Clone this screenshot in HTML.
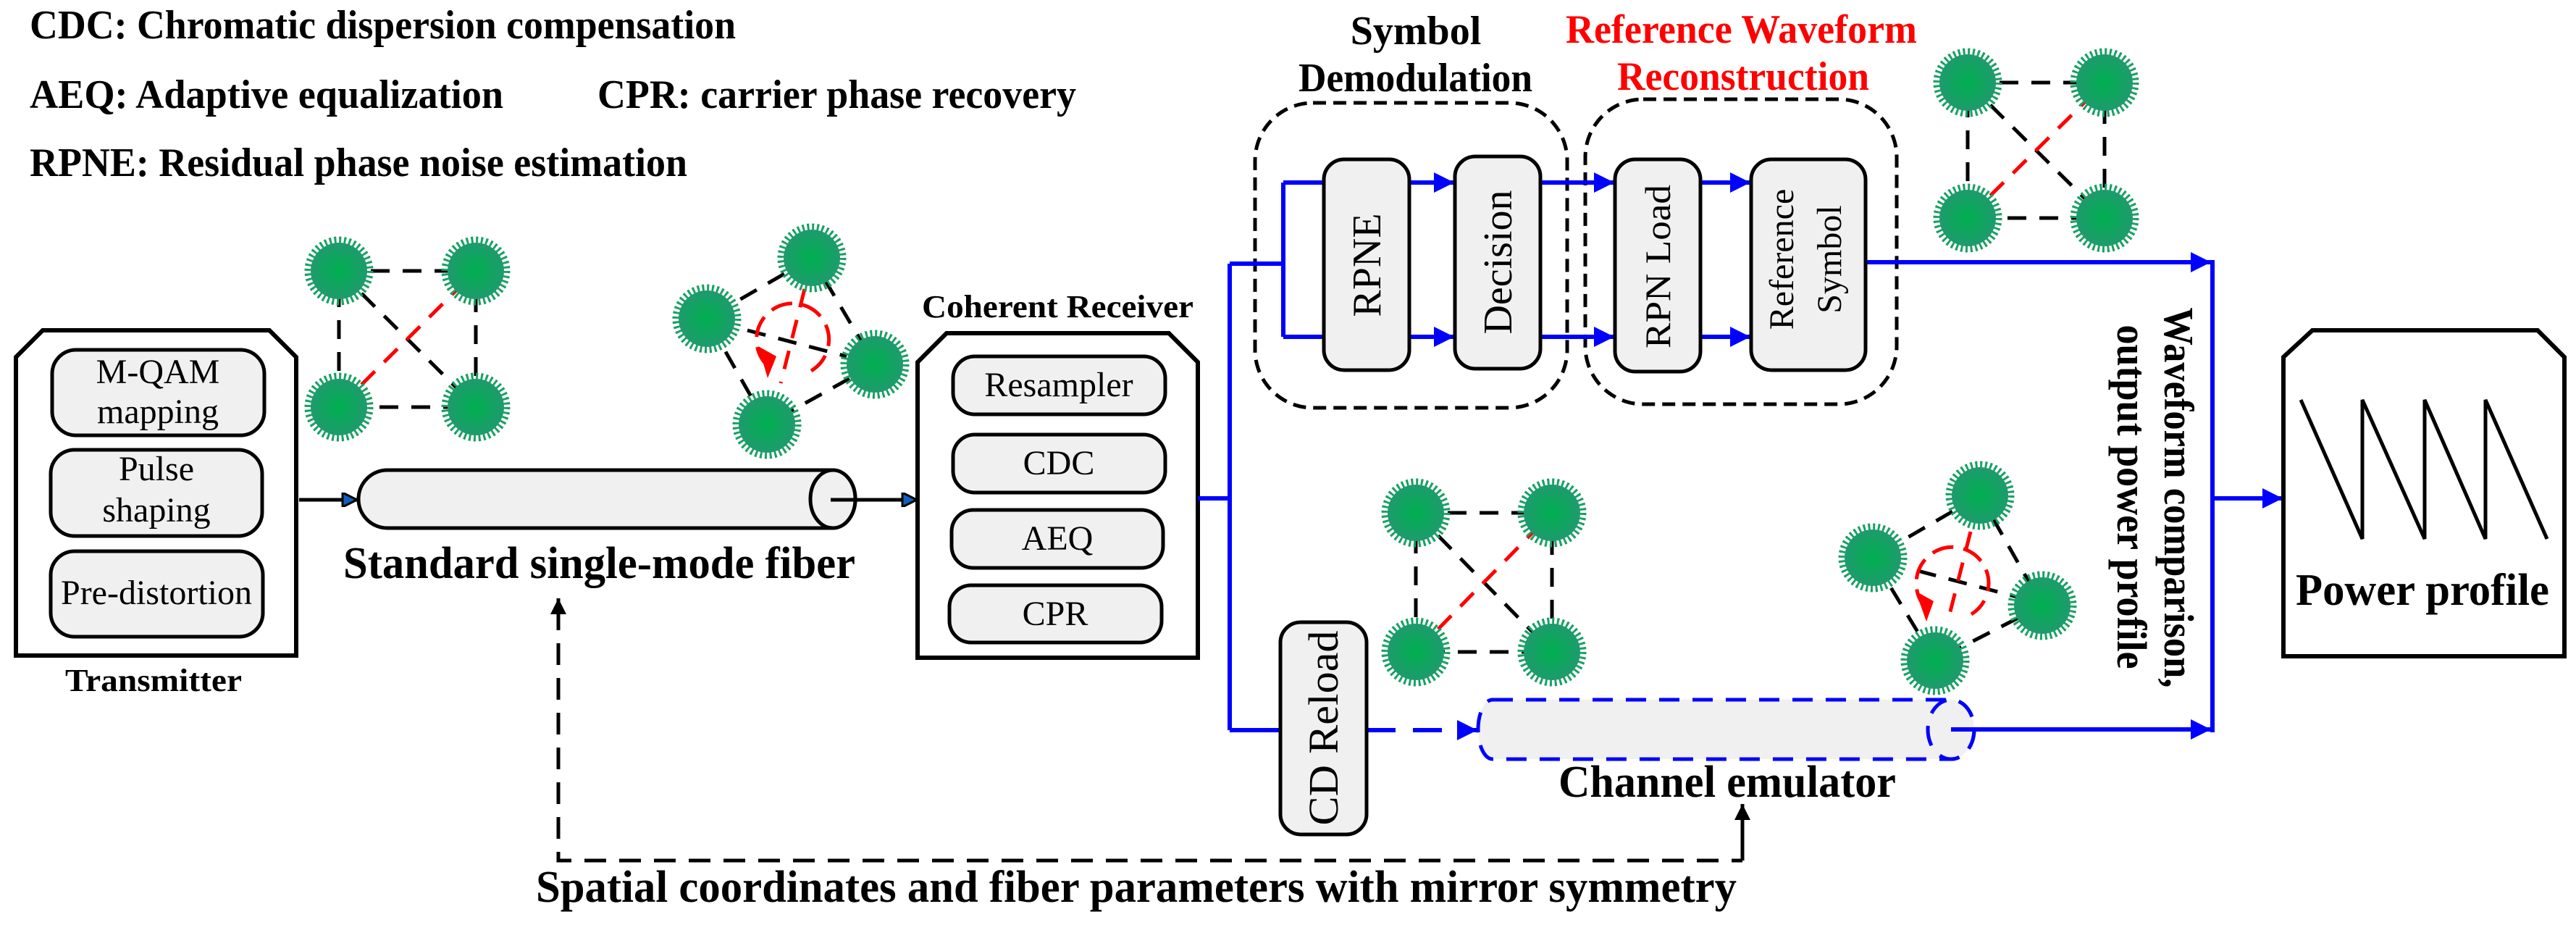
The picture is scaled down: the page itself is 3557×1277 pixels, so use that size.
<!DOCTYPE html>
<html><head><meta charset="utf-8"><style>
html,body{margin:0;padding:0;background:#fff;}
svg{display:block;}
</style></head><body>
<svg width="3557" height="1277" viewBox="0 0 3557 1277" xmlns="http://www.w3.org/2000/svg" font-family="'Liberation Serif','DejaVu Serif',serif">
<defs>
<radialGradient id="g" cx="0.5" cy="0.5" r="0.5">
<stop offset="0" stop-color="#00b050"/><stop offset="1" stop-color="#1f9a6e"/>
</radialGradient>
<marker id="ab" viewBox="0 0 10 10" refX="10" refY="5" markerUnits="userSpaceOnUse" markerWidth="34" markerHeight="28" orient="auto"><path d="M0,0 L10,5 L0,10 Z" fill="#0000ff"/></marker>
<marker id="ak" viewBox="0 0 10 10" refX="10" refY="5" markerUnits="userSpaceOnUse" markerWidth="26" markerHeight="22" orient="auto"><path d="M0,0 L10,5 L0,10 Z" fill="#000"/></marker>
<marker id="akb" viewBox="0 0 10 10" refX="10" refY="5" markerUnits="userSpaceOnUse" markerWidth="24" markerHeight="20" orient="auto"><path d="M0,0 L10,5 L0,10 Z" fill="#1060c0" stroke="#000" stroke-width="1.5"/></marker>
<g id="st"><circle r="39" fill="url(#g)"/><circle r="43" fill="none" stroke="#18a062" stroke-width="9" stroke-dasharray="3 3.75"/></g>
</defs>

<!-- Transmitter -->
<path d="M22,493 L59,456 L372,456 L409,493 L409,905 L22,905 Z" fill="#fff" stroke="#000" stroke-width="6"/>
<rect x="72" y="483" width="293" height="118" rx="33" fill="#f0f0f0" stroke="#000" stroke-width="5"/>
<rect x="70" y="621" width="292" height="119" rx="33" fill="#f0f0f0" stroke="#000" stroke-width="5"/>
<rect x="70" y="761" width="293" height="118" rx="33" fill="#f0f0f0" stroke="#000" stroke-width="5"/>
<g font-size="48" text-anchor="middle" font-family="'Liberation Serif',serif">
<text x="218" y="529">M-QAM</text><text x="218" y="584">mapping</text>
<text x="216" y="663">Pulse</text><text x="216" y="720">shaping</text>
<text x="216" y="834">Pre-distortion</text>
</g>

<!-- fiber -->
<line x1="413" y1="690" x2="493" y2="690" stroke="#000" stroke-width="5" marker-end="url(#akb)"/>
<path d="M535,649 L1150,649 A31,40 0 0 1 1150,729 L535,729 A40,40 0 0 1 535,649 Z" fill="#f0f0f0" stroke="#000" stroke-width="5"/>
<ellipse cx="1150" cy="689" rx="31" ry="40" fill="#f0f0f0" stroke="#000" stroke-width="5"/>
<line x1="1147" y1="690" x2="1266" y2="690" stroke="#000" stroke-width="5" marker-end="url(#akb)"/>

<!-- Receiver -->
<path d="M1267,500 L1307,460 L1614,460 L1654,500 L1654,908 L1267,908 Z" fill="#fff" stroke="#000" stroke-width="6"/>
<rect x="1316" y="492" width="293" height="80" rx="30" fill="#f0f0f0" stroke="#000" stroke-width="5"/>
<rect x="1316" y="600" width="293" height="80" rx="30" fill="#f0f0f0" stroke="#000" stroke-width="5"/>
<rect x="1314" y="704" width="292" height="80" rx="30" fill="#f0f0f0" stroke="#000" stroke-width="5"/>
<rect x="1311" y="808" width="293" height="79" rx="30" fill="#f0f0f0" stroke="#000" stroke-width="5"/>
<g font-size="48" text-anchor="middle" font-family="'Liberation Serif',serif">
<text x="1462" y="547">Resampler</text><text x="1462" y="655">CDC</text><text x="1460" y="759">AEQ</text><text x="1457" y="863">CPR</text>
</g>

<!-- dashed groups -->
<rect x="1733" y="142" width="431" height="421" rx="80" fill="none" stroke="#000" stroke-width="5" stroke-dasharray="18 10"/>
<rect x="2189" y="137" width="430" height="421" rx="80" fill="none" stroke="#000" stroke-width="5" stroke-dasharray="18 10"/>

<!-- blue lines -->
<g stroke="#0000ff" stroke-width="6" fill="none">
<polyline points="1654,688 1698,688"/>
<line x1="1698" y1="364" x2="1698" y2="1008"/>
<line x1="1698" y1="364" x2="1772" y2="364"/>
<line x1="1772" y1="252" x2="1772" y2="465"/>
<line x1="1772" y1="252" x2="1828" y2="252"/>
<line x1="1772" y1="465" x2="1828" y2="465"/>
<line x1="1946" y1="252" x2="2008" y2="252" marker-end="url(#ab)"/>
<line x1="1946" y1="465" x2="2008" y2="465" marker-end="url(#ab)"/>
<line x1="2127" y1="252" x2="2229" y2="252" marker-end="url(#ab)"/>
<line x1="2127" y1="465" x2="2229" y2="465" marker-end="url(#ab)"/>
<line x1="2348" y1="252" x2="2417" y2="252" marker-end="url(#ab)"/>
<line x1="2348" y1="465" x2="2417" y2="465" marker-end="url(#ab)"/>
<line x1="2576" y1="362" x2="3053" y2="362" marker-end="url(#ab)"/>
<line x1="3055" y1="359" x2="3055" y2="1011"/>
<line x1="3055" y1="688" x2="3152" y2="688" marker-end="url(#ab)"/>
<line x1="1698" y1="1008" x2="1768" y2="1008"/>
<line x1="1887" y1="1008" x2="2040" y2="1008" stroke-dasharray="40 24" marker-end="url(#ab)"/>
</g>

<!-- process boxes -->
<g fill="#f0f0f0" stroke="#000" stroke-width="5">
<rect x="1828" y="220" width="118" height="291" rx="28"/>
<rect x="2009" y="216" width="118" height="293" rx="28"/>
<rect x="2230" y="220" width="118" height="293" rx="28"/>
<rect x="2418" y="220" width="158" height="291" rx="28"/>
<rect x="1768" y="859" width="119" height="293" rx="28"/>
</g>
<g text-anchor="middle" font-family="'Liberation Serif',serif">
<text transform="translate(1906,366) rotate(-90)" font-size="56">RPNE</text>
<text transform="translate(2087,362) rotate(-90)" font-size="56">Decision</text>
<text transform="translate(2306,368) rotate(-90)" font-size="50" textLength="226" lengthAdjust="spacingAndGlyphs">RPN Load</text>
<text transform="translate(2476,358) rotate(-90)" font-size="48">Reference</text>
<text transform="translate(2542,358) rotate(-90)" font-size="48">Symbol</text>
<text transform="translate(1847,1005) rotate(-90)" font-size="58" textLength="269" lengthAdjust="spacingAndGlyphs">CD Reload</text>
</g>

<!-- channel emulator -->
<path d="M2061,966 L2694,966 A32,41 0 0 1 2694,1048 L2061,1048 A20,41 0 0 1 2061,966 Z" fill="#f0f0f0" stroke="#0000ff" stroke-width="5" stroke-dasharray="28 18"/>
<ellipse cx="2694" cy="1007" rx="32" ry="41" fill="none" stroke="#0000ff" stroke-width="5" stroke-dasharray="28 18"/>
<line x1="2694" y1="1007" x2="3053" y2="1007" stroke="#0000ff" stroke-width="6" marker-end="url(#ab)"/>

<!-- feedback dashed -->
<polyline points="771,840 771,1188 2406,1188" fill="none" stroke="#000" stroke-width="5" stroke-dasharray="30 18"/>
<line x1="771" y1="850" x2="771" y2="826" stroke="#000" stroke-width="5" marker-end="url(#ak)"/>
<line x1="2406" y1="1188" x2="2406" y2="1110" stroke="#000" stroke-width="5" marker-end="url(#ak)"/>

<!-- power profile -->
<path d="M3153,493 L3193,456 L3504,456 L3541,493 L3541,906 L3153,906 Z" fill="#fff" stroke="#000" stroke-width="6"/>
<polyline points="3177,552 3262,744 3262,552 3348,744 3348,552 3432,744 3432,552 3517,744" fill="none" stroke="#000" stroke-width="5"/>

<!-- QAM square constellations -->
<g stroke-width="5" fill="none" stroke-dasharray="26 18">
<g stroke="#000"><path d="M468,374 H657 V562 H468 Z M468,374 L657,562"/></g><path d="M468,562 L657,374" stroke="#ff0000"/>
<g stroke="#000"><path d="M1955,708 H2143 V900 H1955 Z M1955,708 L2143,900"/></g><path d="M1955,900 L2143,708" stroke="#ff0000"/>
<g stroke="#000"><path d="M2717,114 H2906 V301 H2717 Z M2717,114 L2906,301"/></g><path d="M2717,301 L2906,114" stroke="#ff0000"/>
</g>
<use href="#st" x="468" y="374"/><use href="#st" x="657" y="374"/><use href="#st" x="468" y="562"/><use href="#st" x="657" y="562"/>
<use href="#st" x="1955" y="708"/><use href="#st" x="2143" y="708"/><use href="#st" x="1955" y="900"/><use href="#st" x="2143" y="900"/>
<use href="#st" x="2717" y="114"/><use href="#st" x="2906" y="114"/><use href="#st" x="2717" y="301"/><use href="#st" x="2906" y="301"/>

<!-- rotated constellations -->
<g stroke-width="5" fill="none" stroke-dasharray="26 18">
<path d="M1121,356 L976,440 L1059,586 L1208,503 Z M1032,456 L1169,492" stroke="#000"/>
<path d="M1111,399 L1078,529" stroke="#ff0000"/>
<path d="M1060,505 A50,50 0 1 1 1120,512" stroke="#ff0000" stroke-dasharray="30 14"/>
<path d="M2734,684 L2586,770 L2672,912 L2820,836 Z M2648,788 L2785,824" stroke="#000"/>
<path d="M2721,734 L2689,860" stroke="#ff0000"/>
<path d="M2660,840 A50,50 0 1 1 2722,848" stroke="#ff0000" stroke-dasharray="30 14"/>
</g>
<path d="M1047,478 L1072,492 L1060,522 Z" fill="#ff0000"/>
<path d="M2645,816 L2670,830 L2660,858 Z" fill="#ff0000"/>
<use href="#st" x="1121" y="356"/><use href="#st" x="976" y="440"/><use href="#st" x="1208" y="503"/><use href="#st" x="1059" y="586"/>
<use href="#st" x="2734" y="684"/><use href="#st" x="2586" y="770"/><use href="#st" x="2820" y="836"/><use href="#st" x="2672" y="912"/>

<!-- bold labels (drawn last) -->
<g font-family="'Liberation Serif','DejaVu Serif',serif" font-weight="700">
<text x="41" y="53" font-size="56" textLength="975" lengthAdjust="spacingAndGlyphs">CDC: Chromatic dispersion compensation</text>
<text x="41" y="149" font-size="56" textLength="654" lengthAdjust="spacingAndGlyphs">AEQ: Adaptive equalization</text>
<text x="825" y="149" font-size="56" textLength="661" lengthAdjust="spacingAndGlyphs">CPR: carrier phase recovery</text>
<text x="41" y="243" font-size="56" textLength="908" lengthAdjust="spacingAndGlyphs">RPNE: Residual phase noise estimation</text>
<text x="90" y="954" font-size="44" textLength="244" lengthAdjust="spacingAndGlyphs">Transmitter</text>
<text x="474" y="798" font-size="62" textLength="707" lengthAdjust="spacingAndGlyphs">Standard single-mode fiber</text>
<text x="1273" y="438" font-size="44" textLength="375" lengthAdjust="spacingAndGlyphs">Coherent Receiver</text>
<text x="1955" y="61" font-size="56" text-anchor="middle">Symbol</text>
<text x="1793" y="126" font-size="56" textLength="323" lengthAdjust="spacingAndGlyphs">Demodulation</text>
<text x="2162" y="59" font-size="56" fill="#ff0000" textLength="485" lengthAdjust="spacingAndGlyphs">Reference Waveform</text>
<text x="2233" y="124" font-size="56" fill="#ff0000" textLength="348" lengthAdjust="spacingAndGlyphs">Reconstruction</text>
<text x="2152" y="1100" font-size="62" textLength="466" lengthAdjust="spacingAndGlyphs">Channel emulator</text>
<text x="740" y="1245" font-size="62" textLength="1658" lengthAdjust="spacingAndGlyphs">Spatial coordinates and fiber parameters with mirror symmetry</text>
<text x="3170" y="835" font-size="62" textLength="350" lengthAdjust="spacingAndGlyphs">Power profile</text>
<text transform="translate(2989,687) rotate(90)" font-size="58" text-anchor="middle" textLength="525" lengthAdjust="spacingAndGlyphs">Waveform comparison,</text>
<text transform="translate(2924,686) rotate(90)" font-size="58" text-anchor="middle" textLength="475" lengthAdjust="spacingAndGlyphs">output power profile</text>
</g>
</svg>
</body></html>
